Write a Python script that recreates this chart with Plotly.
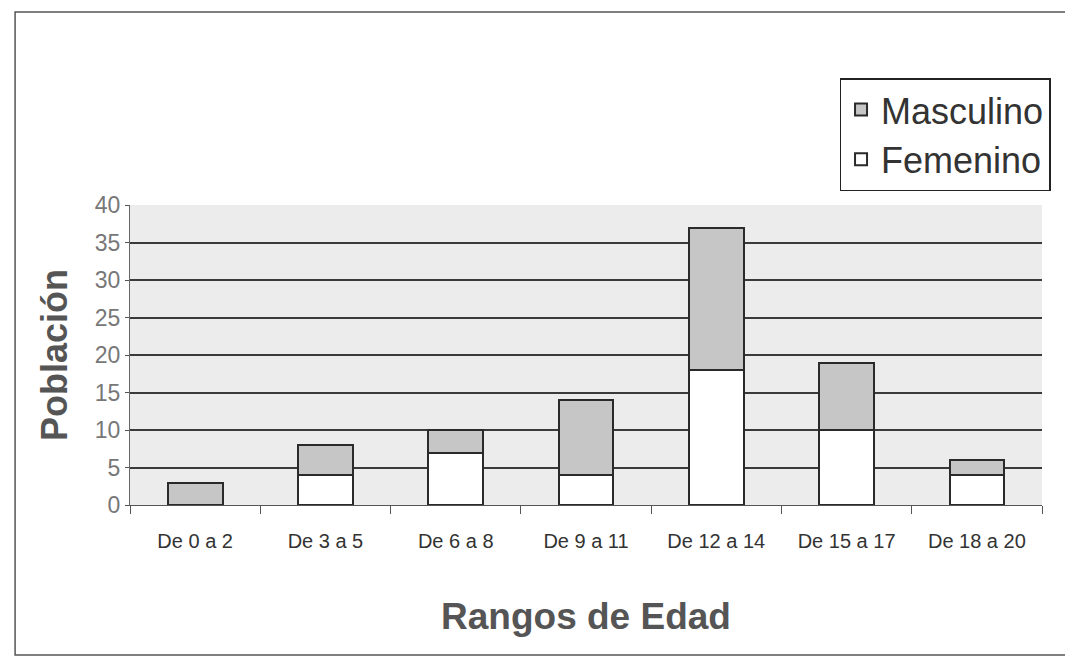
import plotly.graph_objects as go

categories = ["De 0 a 2", "De 3 a 5", "De 6 a 8", "De 9 a 11", "De 12 a 14", "De 15 a 17", "De 18 a 20"]
femenino = [0, 4, 7, 4, 18, 10, 4]
masculino = [3, 4, 3, 10, 19, 9, 2]
y_ticks = [0, 5, 10, 15, 20, 25, 30, 35, 40]

FONT = "Arial, Liberation Sans, sans-serif"

fig = go.Figure()
fig.add_trace(go.Bar(
    x=categories, y=femenino, name="Femenino",
    marker=dict(color="#ffffff", line=dict(color="#2a2a2a", width=2)),
    width=0.42,
))
fig.add_trace(go.Bar(
    x=categories, y=masculino, name="Masculino",
    marker=dict(color="#c6c6c6", line=dict(color="#2a2a2a", width=2)),
    width=0.42,
))

fig.update_layout(
    width=1073, height=671,
    barmode="stack",
    paper_bgcolor="#ffffff",
    plot_bgcolor="#ececec",
    margin=dict(l=122, r=39, t=197, b=174, autoexpand=False),
    font=dict(family=FONT, color="#333333"),
    showlegend=True,
    legend=dict(
        x=0.778, y=1.423, xanchor="left", yanchor="top",
        traceorder="reversed",
        bgcolor="#ffffff", bordercolor="#222222", borderwidth=1.5,
        font=dict(size=36, color="#333333", family=FONT),
        itemsizing="constant", itemwidth=30, tracegroupgap=0,
    ),
    xaxis=dict(
        tickson="boundaries", ticks="outside", ticklen=8, tickcolor="#555",
        ticklabelstandoff=18,
        showline=True, linecolor="#555", linewidth=1,
        tickfont=dict(size=20, color="#333333"),
        showgrid=False,
        title=dict(text="<b>Rangos de Edad</b>", font=dict(size=37, color="#555555"), standoff=52),
    ),
    yaxis=dict(
        range=[0, 40], tickvals=y_ticks,
        ticks="outside", ticklen=4, tickcolor="#555",
        showline=True, linecolor="#666", linewidth=1,
        showgrid=True, gridcolor="#3a3a3a", gridwidth=1.5,
        zeroline=False,
        tickfont=dict(size=23, color="#777777"),
        title=dict(text="<b>Población</b>", font=dict(size=36, color="#555555"), standoff=16),
    ),
    shapes=[dict(
        type="rect", xref="paper", yref="paper",
        x0=-0.126, x1=1.1, y0=-0.5, y1=1.643,
        line=dict(color="#555555", width=1.5), fillcolor="rgba(0,0,0,0)", layer="below",
    )],
)

fig.write_html("out.html")
